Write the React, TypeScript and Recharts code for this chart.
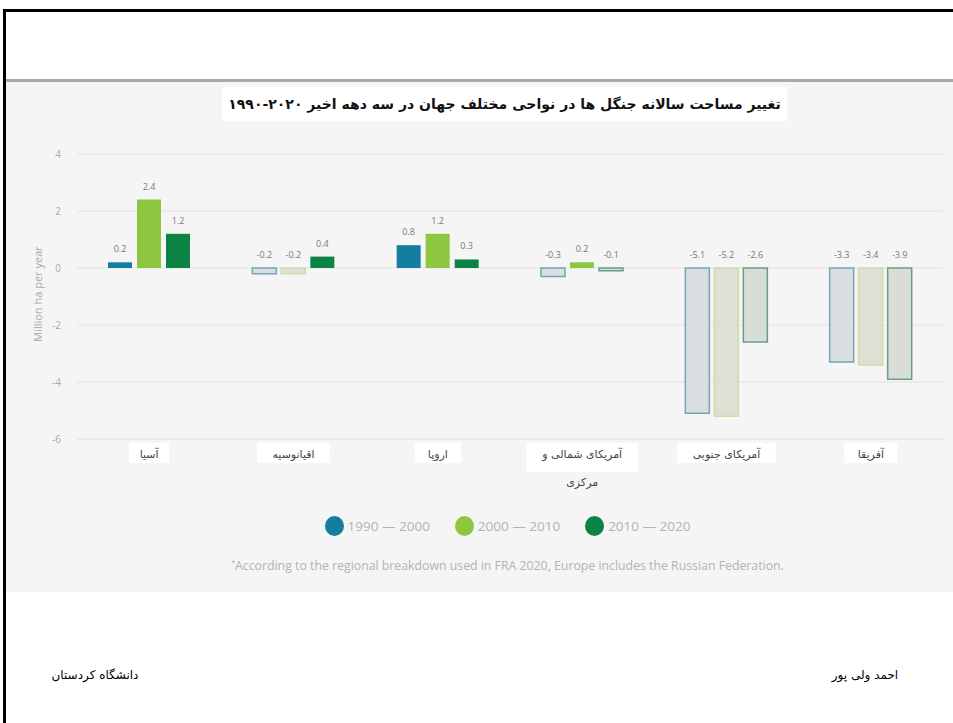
import React from "react";
import {
  BarChart,
  Bar,
  XAxis,
  YAxis,
  CartesianGrid,
  Cell,
  LabelList,
} from "recharts";

const regions = [
  "آسیا",
  "اقیانوسیه",
  "اروپا",
  "آمریکای شمالی و مرکزی",
  "آمریکای جنوبی",
  "آفریقا",
];
const change1990 = [0.2, -0.2, 0.8, -0.3, -5.1, -3.3];
const change2000 = [2.4, -0.2, 1.2, 0.2, -5.2, -3.4];
const change2010 = [1.2, 0.4, 0.3, -0.1, -2.6, -3.9];
const yTicks = [-6, -4, -2, 0, 2, 4];
const periods = ["1990 — 2000", "2000 — 2010", "2010 — 2020"];

const title = "تغییر مساحت سالانه جنگل ها در نواحی مختلف جهان در سه دهه اخیر  ۲۰۲۰-۱۹۹۰";
const footnote =
  "According to the regional breakdown used in FRA 2020, Europe includes the Russian Federation.";

const series = [
  { key: "p1", fill: "#137e9f", negFill: "#d9dfe0", negStroke: "#74a6b6" },
  { key: "p2", fill: "#8dc63f", negFill: "#dfe0d3", negStroke: "#cfdca6" },
  { key: "p3", fill: "#0a8343", negFill: "#d9ddd8", negStroke: "#67a086" },
];

const data = regions.map((region, i) => ({
  region,
  p1: change1990[i],
  p2: change2000[i],
  p3: change2010[i],
}));

const latin = "'Open Sans', Lato, sans-serif";
const persian = "'DejaVu Sans', sans-serif";

function ValueLabel(props: any) {
  const { x, y, width, height, value } = props;
  const top = Math.min(y, y + height);
  return (
    <text
      x={x + width / 2}
      y={top - 10}
      textAnchor="middle"
      fontSize={9}
      fill="#777"
      fontFamily={latin}
    >
      {value}
    </text>
  );
}

function RegionTick(props: any) {
  const { x, y, payload } = props;
  const text: string = payload.value;
  let lines = [text];
  if (text.length > 16) {
    const cut = text.lastIndexOf(" ");
    lines = [text.slice(0, cut), text.slice(cut + 1)];
  }
  const w = lines[0].length * 6.5 + 14;
  const h = lines.length > 1 ? 29 : 20;
  return (
    <g transform={`translate(${x},${y})`}>
      <rect x={-w / 2} y={-4} width={w} height={h} fill="#ffffff" />
      {lines.map((line, i) => (
        <text
          key={i}
          x={0}
          y={11 + i * 28}
          textAnchor="middle"
          direction="rtl"
          fontSize={11}
          fill="#444"
          fontFamily={persian}
        >
          {line}
        </text>
      ))}
    </g>
  );
}

export default function App() {
  return (
    <div
      style={{
        position: "absolute",
        left: 0,
        top: 0,
        width: 953,
        height: 723,
        background: "#fff",
        overflow: "hidden",
      }}
    >
      {/* slide frame */}
      <div style={{ position: "absolute", left: 3, top: 9, width: 950, height: 3, background: "#000" }} />
      <div style={{ position: "absolute", left: 3, top: 9, width: 3, height: 714, background: "#000" }} />
      <div
        style={{
          position: "absolute",
          left: 6,
          top: 79,
          width: 947,
          height: 510,
          background: "#f5f5f5",
          borderTop: "3px solid #a9a9a9",
        }}
      />

      {/* title box */}
      <div
        style={{
          position: "absolute",
          left: 222,
          top: 87,
          width: 565,
          height: 34,
          background: "#fff",
          direction: "rtl",
          textAlign: "center",
          lineHeight: "34px",
          fontFamily: persian,
          fontSize: 14,
          fontWeight: "bold",
          color: "#111",
          whiteSpace: "nowrap",
        }}
      >
        {title}
      </div>

      <div style={{ position: "absolute", left: 0, top: 0 }}>
        <BarChart
          width={953}
          height={723}
          data={data}
          barGap={5}
          margin={{ top: 154, right: 10, bottom: 224, left: 37 }}
        >
          <CartesianGrid vertical={false} stroke="#e2e2e2" />
          <XAxis
            dataKey="region"
            axisLine={false}
            tickLine={false}
            height={60}
            interval={0}
            tick={<RegionTick />}
          />
          <YAxis
            domain={[-6, 4]}
            ticks={yTicks}
            axisLine={false}
            tickLine={false}
            width={40}
            tickMargin={10}
            tick={{ fontSize: 10, fill: "#aaa", fontFamily: latin }}
          />
          {series.map((s) => (
            <Bar key={s.key} dataKey={s.key} barSize={24} isAnimationActive={false}>
              {data.map((d: any, i) => {
                const neg = d[s.key] < 0;
                return (
                  <Cell
                    key={i}
                    fill={neg ? s.negFill : s.fill}
                    stroke={neg ? s.negStroke : "none"}
                    strokeWidth={neg ? 1.5 : 0}
                  />
                );
              })}
              <LabelList dataKey={s.key} content={<ValueLabel />} />
            </Bar>
          ))}
        </BarChart>
      </div>

      {/* y axis title */}
      <div
        style={{
          position: "absolute",
          left: 37,
          top: 294,
          transform: "translate(-50%, -50%) rotate(-90deg)",
          fontFamily: latin,
          fontSize: 11,
          color: "#aaa",
          whiteSpace: "nowrap",
        }}
      >
        Million ha per year
      </div>

      {/* legend */}
      <div
        style={{
          position: "absolute",
          left: 0,
          top: 516,
          width: 953,
          height: 20,
          display: "flex",
          justifyContent: "center",
          paddingLeft: 62,
          boxSizing: "border-box",
          fontFamily: latin,
          fontSize: 13.5,
          color: "#b3b3b3",
        }}
      >
        {periods.map((p, i) => (
          <div key={p} style={{ display: "flex", alignItems: "center", marginRight: i < 2 ? 25 : 0 }}>
            <span
              style={{
                display: "inline-block",
                width: 19,
                height: 20,
                borderRadius: "50%",
                background: series[i].fill,
                marginRight: 4,
              }}
            />
            {p}
          </div>
        ))}
      </div>

      {/* footnote */}
      <div
        style={{
          position: "absolute",
          left: 0,
          top: 557,
          width: 953,
          paddingLeft: 62,
          boxSizing: "border-box",
          textAlign: "center",
          fontFamily: latin,
          fontSize: 12.3,
          color: "#b3b3b3",
          whiteSpace: "nowrap",
        }}
      >
        <sup style={{ fontSize: 7 }}>*</sup>
        {footnote}
      </div>

      {/* footer */}
      <div
        style={{
          position: "absolute",
          left: 40,
          top: 668,
          width: 110,
          textAlign: "center",
          direction: "rtl",
          fontFamily: persian,
          fontSize: 12,
          color: "#000",
        }}
      >
        دانشگاه کردستان
      </div>
      <div
        style={{
          position: "absolute",
          left: 815,
          top: 668,
          width: 100,
          textAlign: "center",
          direction: "rtl",
          fontFamily: persian,
          fontSize: 12,
          color: "#000",
        }}
      >
        احمد ولی پور
      </div>
    </div>
  );
}
